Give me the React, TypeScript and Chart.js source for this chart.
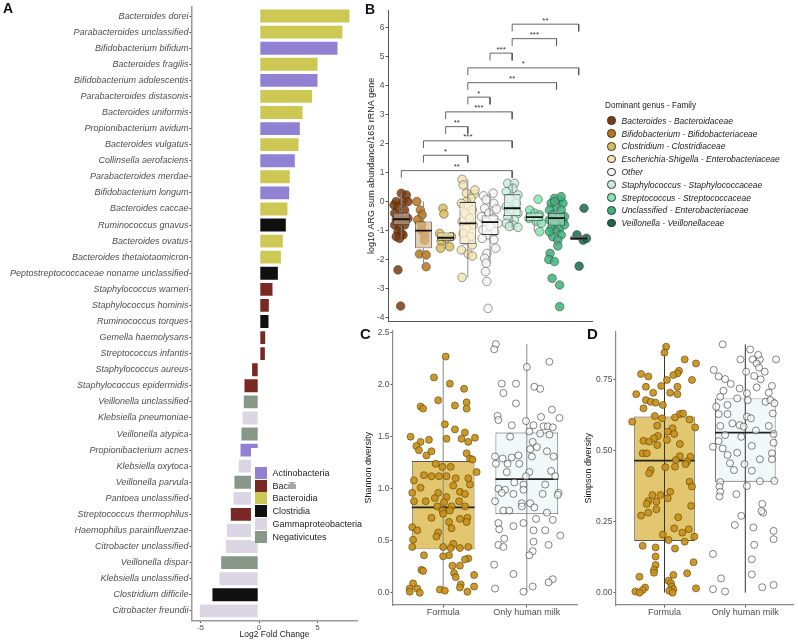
import React, { useEffect, useRef } from "react";
import { Chart, registerables } from "chart.js";

Chart.register(...registerables);

const FONT = '"Liberation Sans", Arial, Helvetica, sans-serif';
const W = 798;
const H = 642;

// ---------------- Panel A ----------------
const speciesLabels = [
  "Bacteroides dorei", "Parabacteroides unclassified", "Bifidobacterium bifidum", "Bacteroides fragilis",
  "Bifidobacterium adolescentis", "Parabacteroides distasonis", "Bacteroides uniformis", "Propionibacterium avidum",
  "Bacteroides vulgatus", "Collinsella aerofaciens", "Parabacteroides merdae", "Bifidobacterium longum",
  "Bacteroides caccae", "Ruminococcus gnavus", "Bacteroides ovatus", "Bacteroides thetaiotaomicron",
  "Peptostreptococcaceae noname unclassified", "Staphylococcus warneri", "Staphylococcus hominis", "Ruminococcus torques",
  "Gemella haemolysans", "Streptococcus infantis", "Staphylococcus aureus", "Staphylococcus epidermidis",
  "Veillonella unclassified", "Klebsiella pneumoniae", "Veillonella atypica", "Propionibacterium acnes",
  "Klebsiella oxytoca", "Veillonella parvula", "Pantoea unclassified", "Streptococcus thermophilus",
  "Haemophilus parainfluenzae", "Citrobacter unclassified", "Veillonella dispar", "Klebsiella unclassified",
  "Clostridium difficile", "Citrobacter freundii",
];
const log2FoldChange = [
  7.8, 7.2, 6.78, 5.07, 5.07, 4.6, 3.8, 3.56, 3.45, 3.13, 2.7, 2.65, 2.5, 2.36, 2.1, 1.94, 1.68, 1.22, 0.91, 0.88,
  0.6, 0.57, -0.66, -1.31, -1.37, -1.48, -1.57, -1.65, -1.8, -2.17, -2.25, -2.48, -2.82, -2.9, -3.3, -3.45, -4.05, -5.13,
];
const speciesClass = [
  2, 2, 0, 2, 0, 2, 2, 0, 2, 0, 2, 0, 2, 3, 2, 2, 3, 1, 1, 3,
  1, 1, 1, 1, 5, 4, 5, 0, 4, 5, 4, 1, 4, 4, 5, 4, 3, 4,
];
const classNames = ["Actinobacteria", "Bacilli", "Bacteroidia", "Clostridia", "Gammaproteobacteria", "Negativicutes"];
const classColors = ["#9181d2", "#7a2823", "#cdc853", "#101010", "#dcd6e4", "#879788"];
const log2Ticks = [-5, 0, 5];

// ---------------- Panel B ----------------
const genusLabels = [
  "Bacteroides - Bacteroidaceae", "Bifidobacterium - Bifidobacteriaceae", "Clostridium - Clostridiaceae",
  "Escherichia-Shigella - Enterobacteriaceae", "Other", "Staphylococcus - Staphylococcaceae",
  "Streptococcus - Streptococcaceae", "Unclassified - Enterobacteriaceae", "Veillonella - Veillonellaceae",
];
const genusColors = ["#7b3b0c", "#bb7616", "#dbbd5c", "#f3e4b2", "#f3f3f3", "#c6efdb", "#84e4b2", "#3db17d", "#186a4b"];

const bBacteroides = [[0.23,0.23],[0,0.29],[-0.23,0.0],[-0.33,-0.12],[0.08,0.0],[0.3,0.0],[-0.15,-0.2],[-0.3,-0.4],[0.15,-0.29],[-0.08,-0.52],[-0.23,-0.63],[0.08,-0.63],[0.3,-0.58],[-0.3,-0.81],[-0.08,-0.86],[0.15,-0.81],[-0.15,-1.04],[0,-1.1],[-0.23,-1.21],[0.08,-1.15],[-0.08,-1.27],[-0.15,-2.36],[-0.03,-3.61]];
const bBifidobacterium = [[-0.3,0.0],[-0.14,-0.29],[-0.06,-0.46],[-0.26,-0.63],[-0.08,-0.81],[-0.1,-0.98],[0.05,-1.15],[0.05,-1.33],[-0.18,-1.81],[0.12,-1.84],[0.12,-2.25]];
const bClostridium = [[-0.12,-0.23],[-0.08,-0.43],[-0.27,-1.1],[0.26,-1.21],[-0.2,-1.38],[0.18,-1.56],[-0.23,-1.61],[0.03,-1.27]];
const bEscherichia = [[-0.26,0.77],[-0.21,0.57],[-0.06,0.29],[0.29,0.26],[0.14,0.11],[0.32,0.4],[-0.06,0.0],[-0.29,-0.06],[0.02,-0.15],[0.2,-0.29],[-0.14,-0.4],[0.09,-0.58],[-0.26,-0.69],[0.24,-0.81],[-0.06,-0.92],[-0.21,-1.1],[0.14,-1.21],[-0.14,-1.33],[0.2,-1.5],[-0.29,-1.67],[0.02,-1.81],[0.2,-1.88],[-0.26,-2.62]];
const bOther = [[-0.29,0.2],[0.14,0.29],[-0.17,0.06],[0.17,-0.06],[-0.24,-0.23],[0.29,-0.26],[-0.05,-0.4],[-0.39,-0.52],[0.14,-0.58],[-0.17,-0.69],[0.36,-0.75],[0.02,-0.86],[-0.32,-0.98],[0.21,-1.04],[-0.09,-1.15],[-0.35,-1.27],[0.17,-1.32],[0.26,-1.61],[-0.14,-1.79],[-0.24,-1.96],[-0.17,-2.13],[-0.2,-2.42],[-0.14,-2.76],[-0.09,-3.69]];
const bStaphylococcus = [[-0.2,0.63],[0.1,0.63],[0.03,0.46],[-0.27,0.34],[0.26,0.23],[-0.12,0.11],[0.18,-0.06],[-0.27,-0.17],[-0.05,-0.29],[0.26,-0.4],[-0.2,-0.52],[0.1,-0.63],[-0.27,-0.75],[0.03,-0.81],[0.26,-0.89],[-0.12,-0.86]];
const bStreptococcus = [[0.17,0.08],[-0.21,-0.29],[0.02,-0.4],[0.24,-0.46],[-0.24,-0.58],[0.09,-0.69],[0.32,-0.75],[0.24,-1.04]];
const bUnclassified = [[-0.09,0.11],[0.14,0.06],[-0.24,-0.06],[0.29,-0.06],[-0.02,-0.17],[-0.32,-0.29],[0.21,-0.29],[-0.17,-0.46],[0.36,-0.52],[0.06,-0.58],[-0.32,-0.63],[0.29,-0.69],[-0.09,-0.75],[-0.24,-0.92],[0.14,-0.92],[-0.02,-1.04],[0.21,-1.15],[-0.17,-1.21],[0.06,-1.33],[0.06,-1.53],[-0.29,-1.79],[-0.35,-2.0],[-0.09,-2.07],[-0.2,-2.65],[0.14,-2.88],[0.14,-3.63],[-0.09,0.0],[0.21,0.17],[0.36,-0.8],[-0.32,-1.04]];
const bVeillonella = [[0.24,-0.23],[-0.08,-1.15],[0.2,-1.33],[0.35,-1.27],[0.02,-2.23]];

const bQ1 = [-0.81, -1.61, -1.35, -1.46, -1.15, -0.5, -0.67, -0.83, -1.33];
const bMedian = [-0.61, -1.0, -1.25, -0.75, -0.71, -0.23, -0.54, -0.57, -1.27];
const bQ3 = [-0.38, -0.69, -1.07, 0.0, -0.48, 0.25, -0.38, -0.4, -1.18];
const bLow = [-1.27, -2.25, -1.61, -2.62, -2.13, -0.89, -1.04, -1.53, -1.33];
const bHigh = [0.29, 0.0, -1.07, 0.77, 0.29, 0.63, -0.29, 0.17, -1.15];
const bYTicks = [-4, -3, -2, -1, 0, 1, 2, 3, 4, 5, 6];

const bracketFrom = [1, 2, 2, 3, 3, 4, 4, 4, 5, 6, 6];
const bracketTo = [6, 4, 6, 4, 6, 5, 8, 9, 6, 8, 9];
const bracketY = [1.07, 1.6, 2.1, 2.59, 3.1, 3.61, 4.11, 4.62, 5.13, 5.63, 6.13];
const bracketText = ["**", "*", "***", "**", "***", "*", "**", "*", "***", "***", "**"];

// ---------------- Panels C & D ----------------
const dietLabels = ["Formula", "Only human milk"];

const cFormula = [[0.03,2.27],[-0.11,2.07],[0.08,2.01],[0.25,1.96],[-0.06,1.85],[0.28,1.83],[0.14,1.80],[-0.27,1.79],[-0.24,1.77],[0.28,1.77],[0.02,1.62],[0.14,1.57],[0.26,1.54],[-0.39,1.50],[0.38,1.49],[0.04,1.48],[0.22,1.48],[-0.17,1.47],[-0.27,1.45],[0.30,1.45],[-0.32,1.41],[-0.29,1.37],[-0.14,1.36],[0.28,1.34],[-0.20,1.32],[0.32,1.29],[0.35,1.28],[-0.09,1.24],[-0.01,1.21],[0.09,1.21],[0.40,1.16],[-0.23,1.13],[-0.14,1.12],[-0.05,1.12],[0.04,1.12],[0.15,1.10],[0.30,1.10],[-0.35,1.08],[0.32,1.04],[0.12,1.03],[-0.27,1.01],[0.20,0.97],[-0.37,0.96],[-0.06,0.96],[0.26,0.95],[0.04,0.92],[-0.10,0.91],[-0.35,0.88],[-0.21,0.88],[0.19,0.88],[0.01,0.87],[-0.07,0.83],[0.10,0.83],[0.26,0.83],[-0.01,0.79],[0.08,0.79],[0.00,0.76],[-0.14,0.72],[0.29,0.72],[0.20,0.71],[0.07,0.68],[0.28,0.68],[-0.37,0.63],[-0.31,0.60],[0.10,0.62],[-0.06,0.58],[-0.08,0.54],[-0.36,0.51],[0.12,0.47],[-0.37,0.44],[0.00,0.44],[0.30,0.44],[0.09,0.43],[0.20,0.43],[-0.23,0.36],[0.07,0.36],[0.00,0.35],[0.30,0.33],[0.26,0.32],[0.11,0.26],[0.20,0.26],[-0.26,0.22],[-0.24,0.21],[0.13,0.19],[0.15,0.15],[0.37,0.17],[-0.36,0.09],[0.21,0.08],[0.37,0.06],[-0.40,0.04],[-0.31,0.04],[-0.04,0.03],[0.02,0.02],[0.20,0.05],[-0.40,0.01],[-0.28,0.00],[0.29,0.01]];
const cMilk = [[-0.37,2.39],[-0.39,2.34],[0.00,2.17],[0.27,2.22],[-0.30,2.01],[-0.13,2.01],[-0.28,1.92],[0.09,1.98],[0.16,1.96],[-0.13,1.82],[0.30,1.76],[0.39,1.68],[-0.35,1.70],[-0.34,1.66],[0.17,1.69],[-0.01,1.65],[-0.18,1.61],[0.08,1.61],[0.20,1.60],[0.25,1.60],[0.31,1.59],[-0.20,1.50],[0.03,1.55],[0.16,1.53],[0.27,1.52],[0.07,1.45],[0.12,1.40],[0.04,1.38],[-0.38,1.31],[-0.29,1.29],[-0.18,1.30],[-0.10,1.32],[0.06,1.31],[0.24,1.36],[0.32,1.31],[-0.37,1.24],[-0.23,1.24],[-0.09,1.24],[-0.24,1.16],[0.03,1.16],[0.29,1.17],[-0.01,1.12],[0.34,1.12],[-0.15,1.06],[-0.04,1.04],[0.22,1.04],[-0.34,1.00],[-0.26,0.99],[-0.04,0.99],[-0.30,0.96],[-0.16,0.95],[0.19,0.95],[0.38,0.96],[0.37,0.94],[-0.38,0.88],[-0.06,0.86],[0.04,0.86],[-0.06,0.83],[0.09,0.82],[-0.28,0.79],[-0.21,0.79],[0.24,0.77],[0.11,0.71],[0.31,0.70],[-0.34,0.67],[-0.04,0.67],[-0.16,0.64],[-0.33,0.61],[0.08,0.60],[0.22,0.60],[0.40,0.55],[-0.27,0.52],[0.08,0.49],[-0.34,0.46],[-0.28,0.44],[0.26,0.46],[0.07,0.40],[0.03,0.36],[-0.39,0.27],[-0.16,0.18],[0.31,0.13],[0.26,0.10],[-0.38,0.04],[0.07,0.06],[-0.04,0.01]];
const cQ1 = [0.417, 0.756];
const cMedian = [0.82, 1.093];
const cQ3 = [1.266, 1.54];
const cLow = [0, 0];
const cHigh = [2.27, 2.39];
const cYTicks = [0, 0.5, 1, 1.5, 2, 2.5];

const dFormula = [[0.02,0.865],[0.00,0.844],[0.25,0.82],[0.39,0.806],[-0.29,0.769],[-0.20,0.76],[0.18,0.78],[0.16,0.771],[0.11,0.765],[0.03,0.748],[0.34,0.748],[-0.04,0.727],[-0.23,0.724],[0.16,0.724],[-0.35,0.698],[-0.14,0.703],[0.07,0.703],[0.16,0.698],[-0.23,0.677],[-0.17,0.671],[-0.11,0.668],[-0.02,0.66],[-0.26,0.648],[-0.12,0.621],[0.19,0.628],[0.23,0.63],[-0.03,0.613],[0.13,0.616],[-0.40,0.601],[0.31,0.609],[-0.09,0.587],[0.38,0.581],[0.10,0.578],[0.04,0.566],[0.12,0.558],[-0.08,0.551],[-0.13,0.543],[-0.26,0.534],[-0.19,0.531],[0.03,0.537],[-0.09,0.519],[0.19,0.523],[-0.27,0.49],[-0.22,0.49],[0.32,0.478],[0.19,0.48],[0.28,0.461],[0.26,0.452],[0.14,0.466],[-0.17,0.431],[-0.19,0.42],[0.01,0.441],[0.13,0.443],[0.31,0.39],[0.34,0.373],[-0.15,0.343],[-0.05,0.343],[0.07,0.355],[0.04,0.332],[-0.10,0.32],[-0.20,0.322],[-0.22,0.312],[0.33,0.305],[-0.10,0.293],[-0.20,0.281],[-0.29,0.271],[0.17,0.265],[0.12,0.226],[0.30,0.223],[0.22,0.211],[-0.02,0.204],[0.37,0.197],[0.25,0.179],[0.05,0.185],[-0.27,0.165],[-0.11,0.159],[0.13,0.155],[-0.11,0.127],[0.36,0.107],[-0.11,0.097],[-0.13,0.08],[0.28,0.068],[-0.31,0.056],[0.11,0.062],[-0.13,0.07],[0.05,0.042],[0.08,0.033],[0.09,0.021],[0.39,0.015],[-0.24,0.018],[-0.27,0.009],[0.11,0.012],[-0.36,0.004],[-0.31,0.0],[0.06,0.007],[0.10,0.0]];
const dMilk = [[-0.28,0.873],[0.06,0.855],[-0.06,0.82],[0.09,0.82],[0.18,0.82],[0.38,0.82],[0.16,0.836],[0.14,0.806],[-0.39,0.783],[0.01,0.777],[0.24,0.777],[0.17,0.791],[0.11,0.762],[-0.33,0.76],[-0.25,0.751],[0.19,0.75],[-0.18,0.734],[-0.07,0.718],[0.14,0.722],[0.33,0.727],[-0.27,0.71],[0.02,0.701],[0.29,0.703],[-0.31,0.689],[-0.10,0.683],[0.03,0.677],[0.25,0.671],[0.31,0.677],[-0.22,0.66],[-0.36,0.654],[0.36,0.666],[-0.33,0.628],[-0.22,0.628],[0.34,0.63],[0.02,0.619],[0.07,0.613],[-0.16,0.595],[-0.07,0.589],[-0.31,0.586],[-0.02,0.584],[0.29,0.586],[-0.25,0.554],[-0.05,0.548],[0.13,0.57],[0.35,0.558],[-0.33,0.533],[0.35,0.527],[-0.40,0.513],[-0.28,0.507],[0.08,0.516],[0.33,0.49],[-0.22,0.484],[-0.10,0.492],[0.33,0.469],[0.18,0.469],[-0.19,0.455],[-0.01,0.452],[-0.14,0.431],[0.08,0.429],[0.36,0.393],[-0.31,0.389],[0.18,0.392],[-0.32,0.373],[0.02,0.375],[-0.31,0.355],[-0.32,0.338],[-0.11,0.346],[0.21,0.312],[0.22,0.281],[0.20,0.287],[-0.05,0.27],[-0.13,0.238],[0.10,0.229],[0.35,0.217],[0.35,0.188],[0.11,0.168],[-0.40,0.136],[0.08,0.117],[0.08,0.064],[-0.30,0.05],[-0.40,0.012],[0.21,0.019],[0.35,0.027],[-0.25,0.004]];
const dQ1 = [0.182, 0.39];
const dMedian = [0.464, 0.5625];
const dQ3 = [0.619, 0.683];
const dLow = [0, 0];
const dHigh = [0.873, 0.873];
const dYTicks = [0, 0.25, 0.5, 0.75];

// ---------------- helpers ----------------
function tint(hex: string, t: number, a: number) {
  const n = parseInt(hex.slice(1), 16);
  const r = (n >> 16) & 255, g = (n >> 8) & 255, b = n & 255;
  const m = (c: number) => Math.round(c + (255 - c) * t);
  return `rgba(${m(r)},${m(g)},${m(b)},${a})`;
}
const fitW = (w: number) => (s: any) => { s.width = w; };
const fitH = (h: number) => (s: any) => { s.height = h; };
const setTicks = (vals: number[]) => (ax: any) => { ax.ticks = vals.map((v) => ({ value: v })); };

function baseOptions(padding: any) {
  return {
    responsive: false,
    maintainAspectRatio: false,
    animation: false,
    devicePixelRatio: 1,
    events: [],
    layout: { padding },
    plugins: { legend: { display: false }, tooltip: { enabled: false } },
  };
}

function boxDatasets(p: any) {
  const datasets: any[] = [];
  p.groups.forEach((g: number[][], gi: number) => {
    datasets.push({
      type: "scatter",
      data: g.map(([o, v]) => ({ x: gi + 1 + o, y: v })),
      backgroundColor: p.pointFill[gi],
      borderColor: p.pointBorder[gi],
      pointRadius: p.radius,
      pointHoverRadius: p.radius,
      pointBorderWidth: p.pointBorderWidth,
      order: p.pointsOnTop ? 0 : 10,
    });
  });
  const whisk: any[] = [];
  p.q1.forEach((_: number, i: number) => {
    const x = i + 1;
    if (p.fullWhisker) whisk.push({ x, y: p.lo[i] }, { x, y: p.hi[i] }, { x, y: null });
    else whisk.push({ x, y: p.lo[i] }, { x, y: p.q1[i] }, { x, y: null }, { x, y: p.q3[i] }, { x, y: p.hi[i] }, { x, y: null });
  });
  datasets.push({
    type: "line", data: whisk, borderColor: p.whiskerColor, borderWidth: p.whiskerWidth,
    pointRadius: 0, spanGaps: false, fill: false, order: p.pointsOnTop ? 2 : 3,
  });
  datasets.push({
    type: "bar",
    data: p.q1.map((q: number, i: number) => ({ x: i + 1, y: [q, p.q3[i]] })),
    backgroundColor: p.boxFill, borderColor: p.boxBorder, borderWidth: p.boxBorderWidth,
    borderSkipped: false, barPercentage: 0.75, categoryPercentage: 1,
    order: p.pointsOnTop ? 3 : 2,
  });
  const meds: any[] = [];
  p.med.forEach((m: number, i: number) => meds.push({ x: i + 1 - 0.375, y: m }, { x: i + 1 + 0.375, y: m }, { x: i + 1, y: null }));
  datasets.push({
    type: "line", data: meds, borderColor: p.medianColor, borderWidth: p.medianWidth,
    pointRadius: 0, spanGaps: false, fill: false, borderCapStyle: "butt", order: 1,
  });
  return datasets;
}

// ---------------- chart configs ----------------
function configA(): any {
  return {
    type: "bar",
    data: {
      datasets: [{
        data: log2FoldChange.map((v, i) => ({ x: v, y: i })),
        backgroundColor: speciesClass.map((c) => classColors[c]),
        borderColor: "#ffffff",
        borderWidth: 0.8,
        borderSkipped: false,
        barPercentage: 0.9,
        categoryPercentage: 1,
      }],
    },
    options: {
      ...baseOptions({ left: 0, top: 5.3, right: W - 357, bottom: 1.9 }),
      indexAxis: "y",
      scales: {
        x: {
          type: "linear", min: -5.73, max: 8.38, offset: false,
          afterBuildTicks: setTicks(log2Ticks),
          grid: { drawOnChartArea: false, drawTicks: true, tickLength: 2.5, color: "#444", offset: false },
          border: { color: "#9a9a9a", width: 1.5 },
          ticks: { font: { size: 7.5, family: FONT }, color: "#4d4d4d", padding: 0.5, maxRotation: 0 },
          title: { display: true, text: "Log2 Fold Change", font: { size: 8.5, family: FONT }, color: "#222", padding: 0 },
          afterFit: fitH(19.6),
        },
        y: {
          type: "linear", reverse: true, min: -0.6, max: 37.6, offset: false,
          afterBuildTicks: setTicks(speciesLabels.map((_, i) => i)),
          grid: { drawOnChartArea: false, drawTicks: true, tickLength: 2.5, color: "#444", offset: false },
          border: { color: "#9a9a9a", width: 1.5 },
          ticks: {
            callback: (v: number) => speciesLabels[v] ?? "",
            font: { size: 9, style: "italic", family: FONT }, color: "#4d4d4d", padding: 1, autoSkip: false,
          },
          afterFit: fitW(192),
        },
      },
    },
  };
}

function configB(): any {
  const groups = [bBacteroides, bBifidobacterium, bClostridium, bEscherichia, bOther, bStaphylococcus, bStreptococcus, bUnclassified, bVeillonella];
  const datasets = boxDatasets({
    groups, q1: bQ1, med: bMedian, q3: bQ3, lo: bLow, hi: bHigh,
    pointFill: genusColors.map((c) => tint(c, 0, 0.85)),
    pointBorder: genusColors.map(() => "rgba(40,40,40,0.75)"),
    radius: 4.3, pointBorderWidth: 0.6, pointsOnTop: false, fullWhisker: false,
    whiskerColor: "#8a8a8a", whiskerWidth: 1,
    boxFill: genusColors.map((c) => tint(c, 0.5, 0.72)), boxBorder: "#3a3a3a", boxBorderWidth: 0.8,
    medianColor: "#111", medianWidth: 1.8,
  });
  const br: any[] = [];
  bracketFrom.forEach((a, i) => {
    const b = bracketTo[i];
    const y = bracketY[i];
    br.push({ x: a, y: y - 0.25 }, { x: a, y }, { x: b, y }, { x: b, y: y - 0.25 }, { x: b, y: null });
  });
  datasets.push({ type: "line", data: br, borderColor: "#555", borderWidth: 0.9, pointRadius: 0, spanGaps: false, fill: false, order: 0 });
  const labelPlugin = {
    id: "bracketLabels",
    afterDatasetsDraw(chart: any) {
      const { ctx, scales } = chart;
      ctx.save();
      ctx.font = `8px ${FONT}`;
      ctx.fillStyle = "#333";
      ctx.textAlign = "center";
      ctx.textBaseline = "alphabetic";
      bracketFrom.forEach((a, i) => {
        const x = scales.x.getPixelForValue((a + bracketTo[i]) / 2);
        const y = scales.y.getPixelForValue(bracketY[i]) - 1.5;
        ctx.fillText(bracketText[i], x, y);
      });
      ctx.restore();
    },
  };
  return {
    type: "bar",
    data: { datasets },
    plugins: [labelPlugin],
    options: {
      ...baseOptions({ left: 366.6, top: 10, right: W - 592, bottom: H - 321.7 }),
      scales: {
        x: {
          type: "linear", min: 0.4, max: 9.6, offset: false,
          afterBuildTicks: setTicks(genusLabels.map((_, i) => i + 1)),
          ticks: { display: false },
          grid: { drawOnChartArea: false, drawTicks: false, offset: false },
          border: { color: "#555", width: 1 },
          afterFit: fitH(0),
        },
        y: {
          type: "linear", min: -4.15, max: 6.62,
          afterBuildTicks: setTicks(bYTicks),
          grid: { drawOnChartArea: false, drawTicks: true, tickLength: 2.5, color: "#555" },
          border: { color: "#555", width: 1 },
          ticks: { font: { size: 8.5, family: FONT }, color: "#4d4d4d", padding: 1 },
          title: { display: true, text: "log10 ARG sum abundance/16S rRNA gene", font: { size: 9, family: FONT }, color: "#222", padding: 0 },
          afterFit: fitW(21.4),
        },
      },
    },
  };
}

function configDiet(p: any): any {
  const datasets = boxDatasets({
    groups: p.groups, q1: p.q1, med: p.med, q3: p.q3, lo: p.lo, hi: p.hi,
    pointFill: ["rgba(200,145,26,0.92)", "rgba(255,255,255,0.6)"],
    pointBorder: ["rgba(95,68,8,0.9)", "rgba(45,45,45,0.85)"],
    radius: 3.5, pointBorderWidth: 0.7, pointsOnTop: true, fullWhisker: true,
    whiskerColor: p.whiskerColor, whiskerWidth: 1,
    boxFill: ["rgba(224,196,104,0.95)", "rgba(240,249,249,0.95)"], boxBorder: "#555", boxBorderWidth: 0.9,
    medianColor: "#222", medianWidth: 1.7,
  });
  return {
    type: "bar",
    data: { datasets },
    options: {
      ...baseOptions(p.padding),
      scales: {
        x: {
          type: "linear", min: 0.4, max: 2.6, offset: false,
          afterBuildTicks: setTicks([1, 2]),
          grid: { drawOnChartArea: false, drawTicks: true, tickLength: 2.5, color: "#555", offset: false },
          border: { color: "#8a8a8a", width: 1.2 },
          ticks: { callback: (v: number) => dietLabels[v - 1] ?? "", font: { size: 9, family: FONT }, color: "#4d4d4d", padding: 0, maxRotation: 0, autoSkip: false },
          afterFit: fitH(15),
        },
        y: {
          type: "linear", min: p.yMin, max: p.yMax,
          afterBuildTicks: setTicks(p.yTicks),
          grid: { drawOnChartArea: false, drawTicks: true, tickLength: 2.5, color: "#555" },
          border: { color: "#8a8a8a", width: 1.2 },
          ticks: { callback: (v: number) => v.toFixed(p.decimals), font: { size: 8.5, family: FONT }, color: "#4d4d4d", padding: 1 },
          title: { display: true, text: p.title, font: { size: 9, family: FONT }, color: "#222", padding: 0 },
          afterFit: fitW(p.yw),
        },
      },
    },
  };
}

const legendRowA = 12.8;
const legendRowB = 12.8;

export default function App() {
  const aRef = useRef<HTMLCanvasElement>(null);
  const bRef = useRef<HTMLCanvasElement>(null);
  const cRef = useRef<HTMLCanvasElement>(null);
  const dRef = useRef<HTMLCanvasElement>(null);

  useEffect(() => {
    const charts = [
      new Chart(aRef.current as HTMLCanvasElement, configA()),
      new Chart(bRef.current as HTMLCanvasElement, configB()),
      new Chart(cRef.current as HTMLCanvasElement, configDiet({
        groups: [cFormula, cMilk], q1: cQ1, med: cMedian, q3: cQ3, lo: cLow, hi: cHigh,
        yMin: -0.118, yMax: 2.52, yTicks: cYTicks, decimals: 1, title: "Shannon diversity",
        padding: { left: 363.6, top: 330.6, right: W - 577, bottom: 22 }, yw: 29.4, whiskerColor: "#888",
      })),
      new Chart(dRef.current as HTMLCanvasElement, configDiet({
        groups: [dFormula, dMilk], q1: dQ1, med: dMedian, q3: dQ3, lo: dLow, hi: dHigh,
        yMin: -0.0435, yMax: 0.919, yTicks: dYTicks, decimals: 2, title: "Simpson diversity",
        padding: { left: 583, top: 331.3, right: 1.6, bottom: 22 }, yw: 33, whiskerColor: "#333",
      })),
    ];
    return () => charts.forEach((c) => c.destroy());
  }, []);

  const letter = (t: string, left: number, top: number, size: number) => (
    <div style={{ position: "absolute", left, top, fontSize: size, lineHeight: `${size}px`, fontWeight: "bold", color: "#111" }}>{t}</div>
  );

  return (
    <div style={{ position: "absolute", left: 0, top: 0, width: W, height: H, background: "#fff", overflow: "hidden", fontFamily: FONT }}>
      {[aRef, bRef, cRef, dRef].map((r, i) => (
        <canvas key={i} ref={r} width={W} height={H} style={{ position: "absolute", left: 0, top: 0, width: W, height: H }} />
      ))}

      {/* Panel A legend */}
      <div style={{ position: "absolute", left: 251, top: 448, width: 114, height: 93, background: "#fff" }} />
      {classNames.map((name, i) => {
        const cy = 472.7 + legendRowA * i;
        return (
          <React.Fragment key={name}>
            <div style={{ position: "absolute", left: 255, top: cy - 6, width: 12, height: 12, background: classColors[i] }} />
            <div style={{ position: "absolute", left: 272.5, top: cy - 6, height: 12, lineHeight: "12px", fontSize: 9, color: "#222", whiteSpace: "nowrap" }}>{name}</div>
          </React.Fragment>
        );
      })}

      {/* Panel B legend */}
      <div style={{ position: "absolute", left: 605, top: 100, lineHeight: "12px", fontSize: 8.2, color: "#222", whiteSpace: "nowrap" }}>Dominant genus - Family</div>
      {genusLabels.map((name, i) => {
        const cy = 120.7 + legendRowB * i;
        return (
          <React.Fragment key={name}>
            <div style={{ position: "absolute", left: 611.3 - 4.3, top: cy - 4.3, width: 8.6, height: 8.6, borderRadius: "50%", background: genusColors[i], border: "0.6px solid #333", boxSizing: "border-box" }} />
            <div style={{ position: "absolute", left: 621.5, top: cy - 6, height: 12, lineHeight: "12px", fontSize: 8.5, fontStyle: "italic", color: "#222", whiteSpace: "nowrap" }}>{name}</div>
          </React.Fragment>
        );
      })}

      {letter("A", 3, 1.2, 14)}
      {letter("B", 365, 1.5, 14)}
      {letter("C", 360, 325.5, 15)}
      {letter("D", 587, 325.5, 15)}
    </div>
  );
}
